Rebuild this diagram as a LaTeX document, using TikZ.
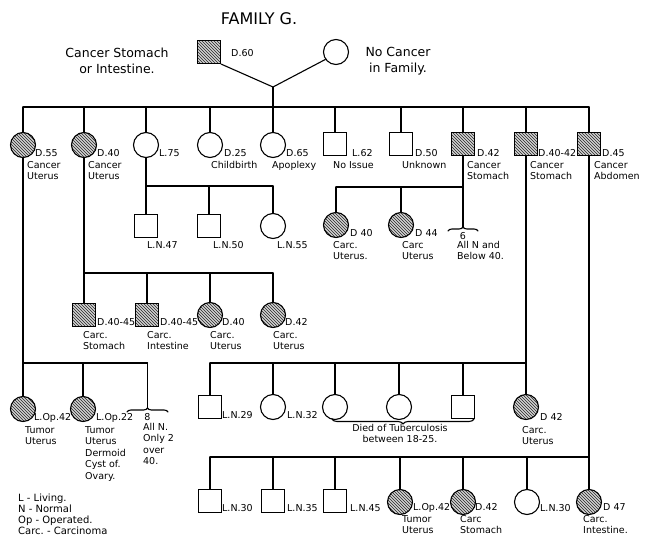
\documentclass[tikz,border=0pt]{standalone}
\usepackage{fontspec}
\setmainfont{DejaVu Sans}
\usetikzlibrary{patterns,decorations.pathreplacing}
\frenchspacing
\newcommand\labf{\fontsize{9.5}{11.5}\selectfont}
\newcommand\topf{\fontsize{12.5}{16}\selectfont}
\newcommand\titf{\fontsize{16}{18}\selectfont}
\newcommand\legf{\fontsize{10}{10.8}\selectfont}
\tikzset{
 ln/.style={line width=1.1pt, line cap=round, line join=round},
 male/.style={draw, line width=1.1pt, rectangle, minimum size=23pt, inner sep=0},
 fem/.style={draw, line width=1.1pt, circle, minimum size=25pt, inner sep=0},
 aff/.style={preaction={fill=gray!35}, pattern=north west lines, pattern color=black!85},
 lab/.style={font=\labf, anchor=north west, inner sep=0, align=left},
 brc/.style={ln, decorate, decoration={brace, amplitude=4pt}},
}
\begin{document}
\begin{tikzpicture}[x=1pt,y=-1pt]
\useasboundingbox (0,0) rectangle (645,538);
% generation I
\node[font=\titf, inner sep=0] (title) at (259,19) {FAMILY G.};
\node[male,aff] (F) at (209,52) {};
\node[fem] (M) at (336,52) {};
\node[font=\topf, align=center, inner sep=0] (ftxt) at (117,61) {Cancer Stomach\\or Intestine.};
\node[font=\labf, anchor=west, inner sep=0] (fd) at (231,53) {D.60};
\node[font=\topf, align=center, inner sep=0] (mtxt) at (398,61) {No Cancer\\in Family.};
\coordinate (v) at (273,87);
\coordinate (s0) at (273,107);
\draw[ln] (F.south east) -- (v) -- (M.215);
\draw[ln] (v) -- (s0);
% generation II
\node[fem,aff] (p1) at (23,145) {};
\node[fem,aff] (p2) at (84,145) {};
\node[fem] (p3) at (146,145) {};
\node[fem] (p4) at (210,145) {};
\node[fem] (p5) at (273,145) {};
\node[male] (p6) at (335,144) {};
\node[male] (p7) at (401,144) {};
\node[male,aff] (p8) at (463,144) {};
\node[male,aff] (p9) at (526,144) {};
\node[male,aff] (p10) at (589,144) {};
\draw[ln] (p1.north |- s0) -- (p10.north |- s0);
\foreach \n in {p1,p2,p3,p4,p5,p6,p7,p8,p9,p10}
  \draw[ln] (\n.north) -- (\n.north |- s0);
\node[lab] (l1a) at (35,149) {D.55};
\node[lab] (l1b) at (27,161) {Cancer\\Uterus};
\node[lab] (l2a) at (97,149) {D.40};
\node[lab] (l2b) at (88,161) {Cancer\\Uterus};
\node[lab] (l3a) at (159,149) {L.75};
\node[lab] (l4a) at (224,149) {D.25};
\node[lab] (l4b) at (211,161) {Childbirth};
\node[lab] (l5a) at (286,149) {D.65};
\node[lab] (l5b) at (272,161) {Apoplexy};
\node[lab] (l6a) at (352,149) {L.62};
\node[lab] (l6b) at (333,161) {No Issue};
\node[lab] (l7a) at (415,149) {D.50};
\node[lab] (l7b) at (402,161) {Unknown};
\node[lab] (l8a) at (477,149) {D.42};
\node[lab] (l8b) at (467,161) {Cancer\\Stomach};
\node[lab] (l9a) at (538,149) {D.40-42};
\node[lab] (l9b) at (530,161) {Cancer\\Stomach};
\node[lab] (l10a) at (602,149) {D.45};
\node[lab] (l10b) at (594,161) {Cancer\\Abdomen};
% children of p3
\coordinate (s3) at (146,186);
\node[male] (t1) at (146,226) {};
\node[male] (t2) at (209,226) {};
\node[fem] (t3) at (273,226) {};
\draw[ln] (p3.south) -- (t1.north);
\draw[ln] (t1.north |- s3) -- (t3.north |- s3);
\draw[ln] (t2.north) -- (t2.north |- s3);
\draw[ln] (t3.north) -- (t3.north |- s3);
\node[lab] (lt1) at (147,241) {L.N.47};
\node[lab] (lt2) at (213,241) {L.N.50};
\node[lab] (lt3) at (277,241) {L.N.55};
% children of p8
\coordinate (s8) at (463,187);
\node[fem,aff] (u1) at (336,225) {};
\node[fem,aff] (u2) at (401,225) {};
\coordinate (b6L) at (448,231);
\coordinate (b6R) at (478,231);
\coordinate (b6) at (463,227);
\draw[brc] (b6L) -- (b6R);
\draw[ln] (p8.south) -- (b6);
\draw[ln] (u1.north |- s8) -- (s8);
\draw[ln] (u1.north) -- (u1.north |- s8);
\draw[ln] (u2.north) -- (u2.north |- s8);
\node[lab] (lu1a) at (350,229) {D 40};
\node[lab] (lu1b) at (333,241) {Carc.\\Uterus.};
\node[lab] (lu2a) at (415,229) {D 44};
\node[lab] (lu2b) at (402,241) {Carc\\Uterus};
\node[font=\labf, inner sep=0] (lu3a) at (463,236) {6};
\node[lab] (lu3b) at (457,241) {All N and\\Below 40.};
% children of p2
\coordinate (s2) at (84,273);
\node[male,aff] (r1) at (84,315) {};
\node[male,aff] (r2) at (147,315) {};
\node[fem,aff] (r3) at (210,315) {};
\node[fem,aff] (r4) at (273,315) {};
\draw[ln] (p2.south) -- (r1.north);
\draw[ln] (r1.north |- s2) -- (r4.north |- s2);
\foreach \n in {r2,r3,r4} \draw[ln] (\n.north) -- (\n.north |- s2);
\node[lab] (lr1a) at (97,318) {D.40-45};
\node[lab] (lr1b) at (83,331) {Carc.\\Stomach};
\node[lab] (lr2a) at (160,318) {D.40-45};
\node[lab] (lr2b) at (147,331) {Carc.\\Intestine};
\node[lab] (lr3a) at (222,318) {D.40};
\node[lab] (lr3b) at (210,331) {Carc.\\Uterus};
\node[lab] (lr4a) at (285,318) {D.42};
\node[lab] (lr4b) at (273,331) {Carc.\\Uterus};
% children of p1
\coordinate (s1) at (23,363);
\node[fem,aff] (q1) at (23,409) {};
\node[fem,aff] (q2) at (83,409) {};
\coordinate (b8L) at (127,412);
\coordinate (b8R) at (168,412);
\coordinate (b8) at (147.5,408);
\draw[brc] (b8L) -- (b8R);
\draw[ln] (p1.south) -- (q1.north);
\draw[ln] (q1.north |- s1) -- (b8 |- s1);
\draw[ln] (q2.north) -- (q2.north |- s1);
\draw[ln] (b8) -- (b8 |- s1);
\node[lab] (lq1a) at (34,413) {L.Op.42};
\node[lab] (lq1b) at (25,426) {Tumor\\Uterus};
\node[lab] (lq2a) at (96,413) {L.Op.22};
\node[lab] (lq2b) at (85,426) {Tumor\\Uterus\\Dermoid\\Cyst of.\\Ovary.};
\node[font=\labf, inner sep=0] (lq3a) at (147.5,417) {8};
\node[lab] (lq3b) at (143,423) {All N.\\Only 2\\over\\40.};
% children of p9
\coordinate (s9) at (526,363);
\node[male] (w1) at (210,407) {};
\node[fem] (w2) at (273,407) {};
\node[fem] (w3) at (335,407) {};
\node[fem] (w4) at (399,407) {};
\node[male] (w5) at (463,407) {};
\node[fem,aff] (w6) at (526,407) {};
\draw[ln] (p9.south) -- (w6.north);
\draw[ln] (w1.north |- s9) -- (s9);
\foreach \n in {w1,w2,w3,w4,w5} \draw[ln] (\n.north) -- (\n.north |- s9);
\coordinate (tbR) at (474,419);
\coordinate (tbL) at (332,419);
\draw[ln, decorate, decoration={brace, amplitude=5pt}] (tbR) -- (tbL);
\node[lab] (lw1) at (222,411) {L.N.29};
\node[lab] (lw2) at (287,411) {L.N.32};
\node[font=\labf, align=center, anchor=north, inner sep=0] (ltb) at (400,424) {Died of Tuberculosis\\between 18-25.};
\node[lab] (lw6a) at (540,413) {D 42};
\node[lab] (lw6b) at (522,426) {Carc.\\Uterus};
% children of p10
\coordinate (s10) at (589,457);
\node[male] (x1) at (210,501) {};
\node[male] (x2) at (273,501) {};
\node[male] (x3) at (335,501) {};
\node[fem,aff] (x4) at (400,502) {};
\node[fem,aff] (x5) at (463,502) {};
\node[fem] (x6) at (527,502) {};
\node[fem,aff] (x7) at (589,502) {};
\draw[ln] (p10.south) -- (x7.north);
\draw[ln] (x1.north |- s10) -- (s10);
\foreach \n in {x1,x2,x3,x4,x5,x6} \draw[ln] (\n.north) -- (\n.north |- s10);
\node[lab] (lx1) at (222,504) {L.N.30};
\node[lab] (lx2) at (287,504) {L.N.35};
\node[lab] (lx3) at (350,504) {L.N.45};
\node[lab] (lx4a) at (413,503) {L.Op.42};
\node[lab] (lx4b) at (402,515) {Tumor\\Uterus};
\node[lab] (lx5a) at (475,503) {D.42};
\node[lab] (lx5b) at (460,515) {Carc\\Stomach};
\node[lab] (lx6) at (540,504) {L.N.30};
\node[lab] (lx7a) at (603,503) {D 47};
\node[lab] (lx7b) at (583,515) {Carc.\\Intestine.};
% legend
\node[font=\legf, anchor=north west, align=left, inner sep=0] (leg) at (18,494) {L - Living.\\N - Normal\\Op - Operated.\\Carc. - Carcinoma};
\end{tikzpicture}
\end{document}
